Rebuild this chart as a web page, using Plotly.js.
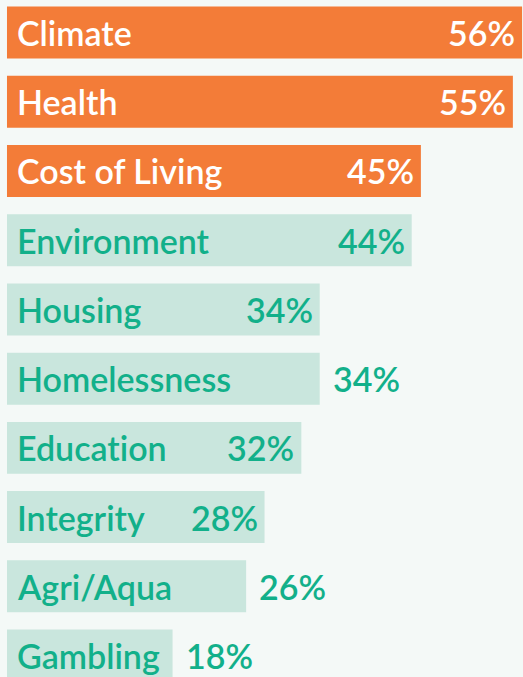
<!DOCTYPE html>
<html>
<head>
<meta charset="utf-8">
<script src="https://cdn.plot.ly/plotly-3.0.1.min.js"></script>
<style>html,body{margin:0;padding:0;background:#f4f9f7;}#chart{width:523px;height:677px;}text{font-variant-ligatures:none;font-feature-settings:"liga" 0;}</style>
</head>
<body>
<div id="chart"></div>
<script>
// ---- data ----
const categories = ["Climate", "Health", "Cost of Living", "Environment", "Housing",
                    "Homelessness", "Education", "Integrity", "Agri/Aqua", "Gambling"];
const values = [56, 55, 45, 44, 34, 34, 32, 28, 26, 18];

// ---- style ----
const ORANGE = "#f37c38", MINT = "#c9e6dd", GREEN = "#12b08a", BG = "#f4f9f7";
const highlightCount = 3;
const outsideValue = ["Homelessness", "Agri/Aqua", "Gambling"];
const FONT = "Lato, 'Open Sans', sans-serif";
const FSIZE = 34;

const isHi = categories.map((c, i) => i < highlightCount);

const trace = {
  type: "bar",
  orientation: "h",
  y: categories,
  x: values,
  marker: { color: isHi.map(h => h ? ORANGE : MINT), line: { width: 0 } },
  hoverinfo: "none"
};

const annotations = [];
categories.forEach((c, i) => {
  const col = isHi[i] ? "#ffffff" : GREEN;
  annotations.push({
    x: 0, y: c, xref: "x", yref: "y", text: c, showarrow: false,
    xanchor: "left", yanchor: "middle", xshift: 8,
    font: { family: FONT, size: FSIZE, color: col, weight: 600 }
  });
  const out = outsideValue.includes(c);
  annotations.push({
    x: values[i], y: c, xref: "x", yref: "y", text: values[i] + "%", showarrow: false,
    xanchor: out ? "left" : "right", yanchor: "middle", xshift: out ? 11 : -5,
    font: { family: FONT, size: FSIZE, color: out ? GREEN : col, weight: 600 }
  });
});

const layout = {
  width: 523, height: 677,
  margin: { l: 0, r: 0, t: 0, b: 0, pad: 0 },
  paper_bgcolor: BG, plot_bgcolor: BG,
  showlegend: false,
  bargap: 0.249,
  xaxis: { range: [-0.76, 56.1], visible: false, fixedrange: true },
  yaxis: { type: "category", range: [9.31, -0.47], visible: false, fixedrange: true },
  annotations: annotations
};

Plotly.newPlot("chart", [trace], layout, { displayModeBar: false, staticPlot: true });
</script>
</body>
</html>
